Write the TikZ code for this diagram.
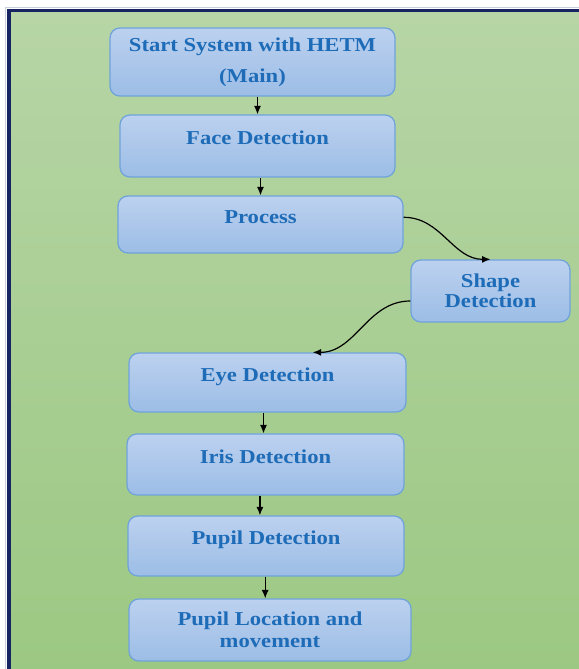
\documentclass[tikz,border=0pt]{standalone}
\usepackage{fontspec}
\setmainfont{Liberation Serif}
\newfontfamily\boxfont[FakeStretch=1.15]{Liberation Serif}
\usepackage{xcolor}
\usetikzlibrary{arrows.meta}

\definecolor{framenavy}{RGB}{22,36,98}
\definecolor{frameedge}{RGB}{200,208,222}
\definecolor{bgtop}{RGB}{183,213,166}
\definecolor{bgbottom}{RGB}{155,200,130}
\definecolor{boxtop}{RGB}{188,209,239}
\definecolor{boxbottom}{RGB}{156,189,230}
\definecolor{boxline}{RGB}{112,163,218}
\definecolor{boxtext}{RGB}{30,108,184}

\begin{document}
\begin{tikzpicture}[
  stepbox/.style 2 args = {draw=boxline, line width=0.9pt,
                  top color=boxtop, bottom color=boxbottom,
                  rounded corners=7pt, minimum width=#1, minimum height=#2,
                  font=\boxfont\bfseries\fontsize{14}{16}\selectfont,
                  text=boxtext, align=center},
  uptext/.style  = {text height=10pt, text depth=12pt},
  flow/.style    = {-{Latex[length=6pt, width=5pt]}, line width=0.85pt, black},
]

\useasboundingbox (0,0) rectangle (14.475,16.725);

%% page frame with green background
\draw[frameedge, line width=0.6pt] (0.13,-0.3) rectangle (14.7,16.55);
\draw[framenavy, line width=2.2pt, top color=bgtop, bottom color=bgbottom]
  (0.225,-0.2) rectangle (14.6,16.4625);

%% flow steps
\node[stepbox={7.125cm}{1.7cm}] (start) at (6.3125, 15.175)
  {Start System with HETM\\[6pt](Main)};
\node[stepbox={6.875cm}{1.55cm}, uptext] (face) at (6.4375, 13.075)
  {Face Detection};
\node[stepbox={7.125cm}{1.425cm}, uptext] (process) at (6.5125, 11.1125)
  {Process};
\node[stepbox={3.975cm}{1.55cm}] (shapedet) at (12.2625, 9.45)
  {Shape\\[-2pt]Detection};
\node[stepbox={6.925cm}{1.475cm}, uptext] (eye) at (6.6875, 7.1625)
  {Eye Detection};
\node[stepbox={6.925cm}{1.525cm}, uptext] (iris) at (6.6375, 5.1125)
  {Iris Detection};
\node[stepbox={6.9cm}{1.5cm}, uptext] (pupil) at (6.65, 3.075)
  {Pupil Detection};
\node[stepbox={7.05cm}{1.55cm}] (location) at (6.75, 0.975)
  {Pupil Location and\\movement};

%% connectors
\draw[flow] (face.north |- start.south) -- (face.north);
\draw[flow] (process.north |- face.south) -- (process.north);
\draw[flow] ([yshift=0.18cm]process.east) to[out=0, in=180] (shapedet.north);
\draw[flow] ([yshift=-0.25cm]shapedet.west) to[out=180, in=0]
  ([xshift=1.13cm]eye.north);
\draw[flow] ([xshift=-0.1cm]eye.south) -- ([xshift=-0.1cm]eye.south |- iris.north);
\draw[flow] ([xshift=-0.14cm]iris.south) -- ([xshift=-0.14cm]iris.south |- pupil.north);
\draw[flow] ([xshift=-0.02cm]pupil.south) -- ([xshift=-0.02cm]pupil.south |- location.north);

\end{tikzpicture}
\end{document}
